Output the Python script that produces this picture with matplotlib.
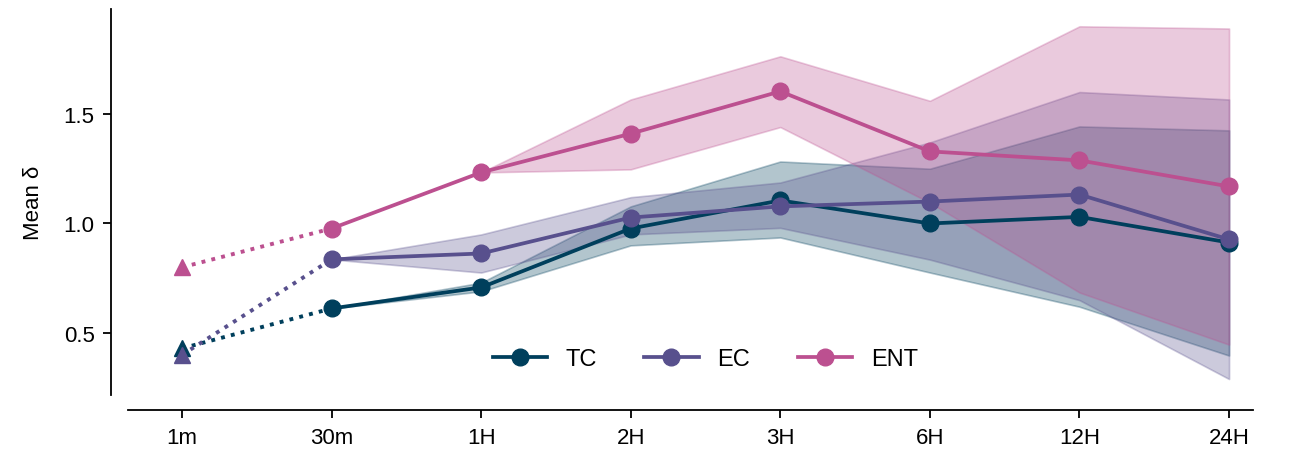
import matplotlib
matplotlib.use("Agg")
import matplotlib.pyplot as plt
import numpy as np

plt.rcParams['font.family'] = ['Liberation Sans', 'DejaVu Sans']

categories = ["1m", "30m", "1H", "2H", "3H", "6H", "12H", "24H"]
series = ["TC", "EC", "ENT"]
colors = {"TC": "#003f5c", "EC": "#58508d", "ENT": "#bc5090"}

# value at 1m (triangle markers)
start_vals = {"TC": 0.43, "EC": 0.40, "ENT": 0.80}

# means from 30m onward
tc_mean = [0.612, 0.708, 0.977, 1.105, 1.000, 1.030, 0.913]
ec_mean = [0.836, 0.863, 1.027, 1.078, 1.100, 1.132, 0.927]
ent_mean = [0.977, 1.233, 1.410, 1.603, 1.329, 1.288, 1.169]

# bands (from 30m onward; None = no band)
tc_low = [0.612, 0.690, 0.900, 0.936, 0.776, 0.620, 0.397]
tc_high = [0.612, 0.730, 1.078, 1.283, 1.250, 1.443, 1.425]
ec_low = [0.836, 0.776, 0.950, 0.980, 0.835, 0.650, 0.290]
ec_high = [0.836, 0.950, 1.120, 1.187, 1.370, 1.600, 1.566]
ent_low = [None, 1.233, 1.247, 1.440, 1.095, 0.685, 0.447]
ent_high = [None, 1.233, 1.566, 1.763, 1.560, 1.900, 1.890]

means = {"TC": tc_mean, "EC": ec_mean, "ENT": ent_mean}
lows = {"TC": tc_low, "EC": ec_low, "ENT": ent_low}
highs = {"TC": tc_high, "EC": ec_high, "ENT": ent_high}

fig = plt.figure(figsize=(12.9, 4.52), dpi=100)
ax = fig.add_axes([128/1290, 1 - 396/452, 1125/1290, 386/452])

x_all = np.arange(len(categories))
x_rest = x_all[1:]

for i, s in enumerate(series):
    c = colors[s]
    lo = np.array([np.nan if v is None else v for v in lows[s]], dtype=float)
    hi = np.array([np.nan if v is None else v for v in highs[s]], dtype=float)
    mask = ~np.isnan(lo)
    ax.fill_between(x_rest[mask], lo[mask], hi[mask], color=c, alpha=0.3,
                    linewidth=1.2, edgecolor=c, zorder=1 + i * 0.1)

for i, s in enumerate(series):
    c = colors[s]
    ax.plot([x_all[0], x_rest[0]], [start_vals[s], means[s][0]], color=c,
            linestyle=(0, (1, 1.6)), linewidth=2.8, zorder=3 + i)
    ax.plot([x_all[0]], [start_vals[s]], marker='^', markersize=11.5, color=c,
            linestyle='none', zorder=3.5 + i)
    ax.plot(x_rest, means[s], color=c, linewidth=2.7, marker='o',
            markersize=12, label=s, zorder=4 + i)

ax.set_xlim(-0.361, 7.16)
ax.set_ylim(0.217, 1.979)
ax.set_xticks(x_all)
ax.set_xticklabels(categories)
ax.set_yticks([0.5, 1.0, 1.5])
ax.set_yticklabels(["0.5", "1.0", "1.5"])
ax.set_ylabel("Mean δ", fontsize=16, labelpad=14)

for side in ["top", "right"]:
    ax.spines[side].set_visible(False)
ax.spines["left"].set_position(("outward", 12))
ax.spines["bottom"].set_position(("outward", 11))
for side in ["left", "bottom"]:
    ax.spines[side].set_linewidth(1.3)
ax.tick_params(axis="both", labelsize=16, width=1.3, length=6, pad=6)

ax.legend(loc="center", bbox_to_anchor=(0.513, 0.093), ncol=3, frameon=False,
          fontsize=17, handlelength=2.3, handletextpad=0.8, columnspacing=2.0)

fig.savefig("out.png", dpi=100)
